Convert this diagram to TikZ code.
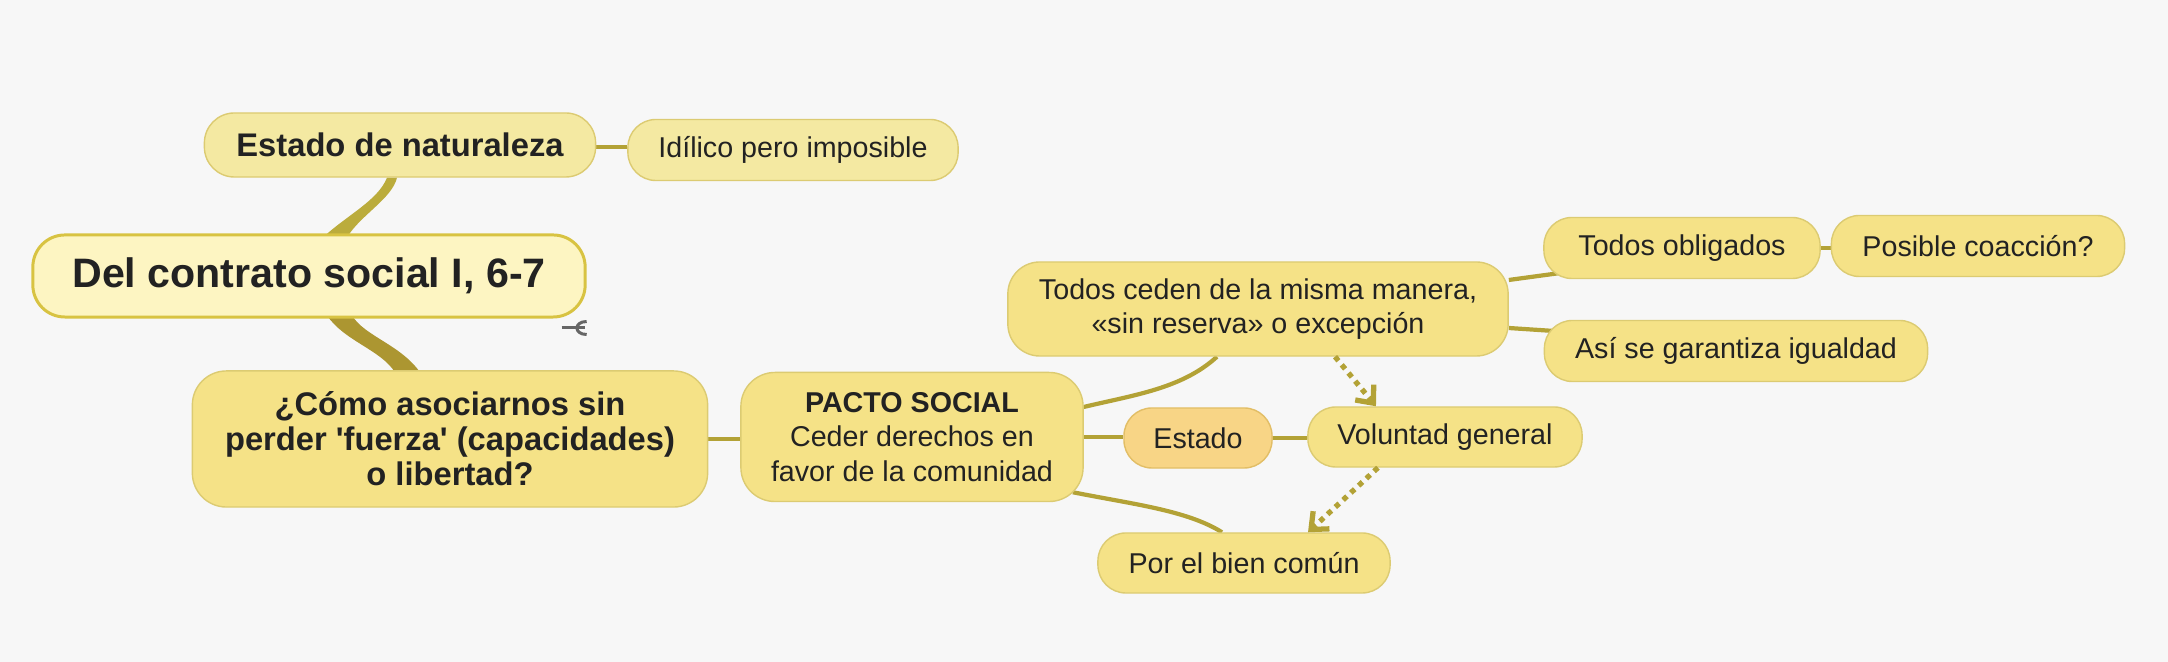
\documentclass[tikz,border=0pt]{standalone}
\usepackage{fontspec}
\setmainfont{Liberation Sans}
\usepackage{tikz}
\usetikzlibrary{calc,positioning,backgrounds}
\usetikzlibrary{arrows.meta}
\tikzset{>={Straight Barb[width=2.4mm,length=1.4mm]}}

\definecolor{bgcol}{HTML}{F7F7F7}
\definecolor{rootfill}{HTML}{FDF5C2}
\definecolor{rootline}{HTML}{D8C342}
\definecolor{nodefill}{HTML}{F5E287}
\definecolor{lightfill}{HTML}{F4E9A2}
\definecolor{nodeline}{HTML}{DCCB72}
\definecolor{statefill}{HTML}{F8D586}
\definecolor{stateline}{HTML}{E2BE66}
\definecolor{linkcol}{HTML}{B3A236}
\definecolor{trunkup}{HTML}{BBAC3C}
\definecolor{trunkdown}{HTML}{AC9631}
\definecolor{textcol}{HTML}{222222}
\definecolor{iconcol}{HTML}{666666}

\begin{document}
\begin{tikzpicture}[x=0.01cm,y=-0.01cm]
          \tikzstyle{mnode} = [draw=nodeline, fill=nodefill, line width=0.4pt, rounded corners=0.28cm, inner sep=0pt, align=center, text=textcol, font=\fontsize{8.15}{9.9}\selectfont]
          \tikzstyle{rootnode} = [mnode, draw=rootline, fill=rootfill, line width=0.85pt, rounded corners=0.32cm, font=\bfseries\fontsize{11.7}{14}\selectfont]
          \tikzstyle{topicnode} = [mnode, rounded corners=0.3cm, font=\bfseries\fontsize{9.3}{10}\selectfont]
          \tikzstyle{statenode} = [mnode, fill=statefill, draw=stateline]
          \tikzstyle{link} = [draw=linkcol, line width=1.2pt]
          \tikzstyle{dotlink} = [draw=linkcol, line width=1.5pt, dash pattern=on 1.5pt off 1.5pt]
          \tikzstyle{icon} = [draw=iconcol, line width=0.85pt]

            \node[rootnode, minimum width=5.52cm, minimum height=0.82cm] (root) at (309,276) {Del contrato social I, 6-7};

            \node[topicnode, fill=lightfill, minimum width=3.91cm, minimum height=0.64cm] (naturaleza) at (400,145) {Estado de naturaleza};
            \node[mnode, fill=lightfill, minimum width=3.30cm, minimum height=0.61cm] (idilico) at (793,150) {Idílico pero imposible};

            \node[topicnode, rounded corners=0.34cm, minimum width=5.15cm, minimum height=1.36cm] (pregunta) at (450,439) {¿Cómo asociarnos sin\\perder \textquotesingle fuerza\textquotesingle{} (capacidades)\\o libertad?};
            \node[mnode, rounded corners=0.34cm, minimum width=3.42cm, minimum height=1.29cm] (pacto) at (912,437) {\textbf{PACTO SOCIAL}\\Ceder derechos en\\favor de la comunidad};

            \node[mnode, rounded corners=0.32cm, minimum width=5.00cm, minimum height=0.94cm, font=\fontsize{8.15}{9.5}\selectfont] (ceden) at (1258,309) {Todos ceden de la misma manera,\\«sin reserva» o excepción};
            \node[statenode, minimum width=1.48cm, minimum height=0.60cm] (estado) at (1198,438) {Estado};
            \node[mnode, minimum width=2.74cm, minimum height=0.60cm] (voluntad) at (1445,437) {Voluntad general};
            \node[mnode, minimum width=2.92cm, minimum height=0.60cm] (bien) at (1244,563) {Por el bien común};

            \node[mnode, minimum width=2.76cm, minimum height=0.61cm] (obligados) at (1682,248) {Todos obligados};
            \node[mnode, minimum width=2.93cm, minimum height=0.61cm] (coaccion) at (1978,246) {Posible coacción?};
            \node[mnode, minimum width=3.83cm, minimum height=0.61cm] (igualdad) at (1736,351) {Así se garantiza igualdad};

            % collapse mark
            \draw[icon] ($(root.south east)+(-25,9)$) -- +(23,0);
            \draw[icon] ($(root.south east)+(0,3)$) .. controls +(-13,0) and +(-13,0) .. ($(root.south east)+(0,16)$);

            \draw[dotlink, ->] ([xshift=0.77cm]ceden.south) to ([xshift=-0.69cm]voluntad.north);
            \draw[dotlink, ->] ([xshift=-0.67cm]voluntad.south) to ([xshift=0.64cm]bien.north);

          \begin{pgfonlayer}{background}
            \fill[bgcol] (0,0) rectangle (2168,662);
            \useasboundingbox (0,0) rectangle (2168,662);

            \fill[trunkup] ($(root.north)+(14,4)$) .. controls +(22,-21) and +(-9,23) .. ($(naturaleza.south)+(-13,0)$)
              -- ($(naturaleza.south)+(-3,0)$) .. controls +(-5,21) and +(13,-22) .. ($(root.north)+(38,4)$) -- cycle;
            \fill[trunkdown] ($(root.south)+(18,-3)$) .. controls +(18,26) and +(-15,-23) .. ($(pregunta.north)+(-55,2)$)
              -- ($(pregunta.north)+(-30,2)$) .. controls +(-20,-28) and +(13,21) .. ($(root.south)+(43,-3)$) -- cycle;

            \draw[link] ([yshift=-0.02cm]naturaleza.east) to ([yshift=-0.02cm]naturaleza.east -| idilico.west);
            \draw[link] (pregunta.east) to (pregunta.east -| pacto.west);
            \draw[link] (pacto.east) to (pacto.east -| estado.west);
            \draw[link] (estado.east) to (estado.east -| voluntad.west);
            \draw[link] (obligados.east) to (obligados.east -| coaccion.west);

            \draw[link] ([yshift=0.3cm]pacto.east) .. controls +(50,-12) and +(-35,32) .. ([xshift=-0.41cm]ceden.south);
            \draw[link] ($(pacto.south east)+(-11,-10)$) .. controls +(60,12) and +(-35,-22) .. ([xshift=-0.22cm]bien.north);

            \draw[link] ([yshift=0.29cm]ceden.east) to ([shift={(0.17cm,-0.25cm)}]obligados.west);
            \draw[link] ([yshift=-0.19cm]ceden.east) to ([shift={(0.1cm,0.2cm)}]igualdad.west);
          \end{pgfonlayer}
        \end{tikzpicture}
\end{document}
